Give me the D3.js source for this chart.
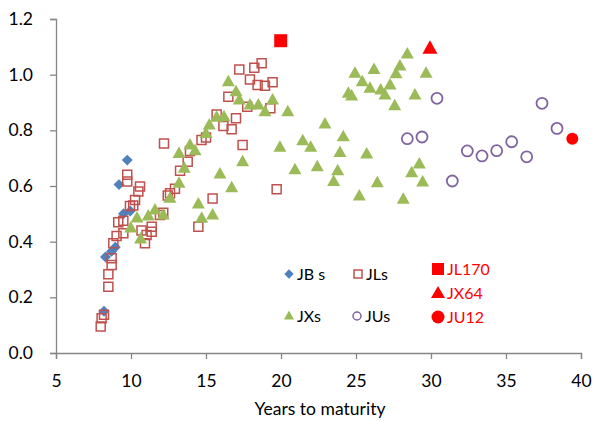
<!DOCTYPE html>
<html><head><meta charset="utf-8">
<script src="https://cdn.jsdelivr.net/npm/d3@7"></script>
<style>body{margin:0;background:#fff}svg{display:block}text{font-family:Lato,"Open Sans",sans-serif}</style>
</head><body><svg id="c" width="595" height="421"></svg>
<script>
const xTicks=[5,10,15,20,25,30,35,40];
const yTicks=[0,0.2,0.4,0.6,0.8,1.0,1.2];
const seriesNames=["JB s","JLs","JXs","JUs","JL170","JX64","JU12"];
const jbX=[8.2,8.3,8.7,8.95,9.2,9.5,9.95,9.75];
const jbY=[0.15,0.345,0.365,0.38,0.605,0.5,0.51,0.693];
const jlX=[7.98,8.04,8.2,8.49,8.49,8.71,8.71,8.82,9.04,9.15,9.49,9.49,9.93,10.15,10.27,10.49,10.6,9.75,9.75,10.7,10.93,11.04,11.38,11.38,11.93,12.15,12.2,12.45,12.6,12.93,13.27,13.78,13.93,14.49,14.7,15.0,15.44,15.71,16.16,16.49,16.71,17.0,17.22,17.44,17.75,17.93,18.22,18.44,18.71,18.93,19.29,19.44,19.71];
const jlY=[0.095,0.125,0.137,0.238,0.283,0.316,0.34,0.394,0.42,0.47,0.475,0.43,0.528,0.53,0.55,0.58,0.598,0.616,0.64,0.44,0.394,0.424,0.436,0.454,0.496,0.504,0.753,0.566,0.574,0.59,0.655,0.687,0.726,0.454,0.765,0.774,0.555,0.857,0.816,0.921,0.804,0.843,1.019,0.747,0.885,0.983,1.025,0.963,1.041,0.96,0.879,0.973,0.588];
const jxX=[9.98,10.4,10.64,11.15,11.6,12.15,12.6,13.2,13.2,13.55,13.93,14.27,14.49,14.71,15.0,15.22,15.44,15.71,15.93,16.2,16.49,16.71,17.0,17.22,17.44,17.93,18.49,18.93,19.44,19.93,20.45,20.93,21.45,21.98,22.42,22.93,23.51,23.78,23.93,24.15,24.49,24.71,24.93,25.22,25.42,25.71,25.93,26.2,26.42,26.65,26.93,27.27,27.58,27.67,27.93,28.15,28.42,28.71,28.93,29.22,29.44,29.67];
const jxY=[0.449,0.485,0.41,0.492,0.514,0.496,0.556,0.61,0.717,0.664,0.747,0.727,0.535,0.484,0.789,0.819,0.496,0.847,0.643,0.849,0.975,0.594,0.939,0.909,0.687,0.891,0.891,0.867,0.909,0.739,0.867,0.658,0.763,0.739,0.669,0.823,0.616,0.655,0.72,0.777,0.933,0.923,1.005,0.564,0.975,0.715,0.951,1.019,0.612,0.945,0.927,0.963,0.888,1.003,1.031,0.552,1.074,0.648,0.927,0.679,0.614,1.005];
const juX=[28.42,29.4,30.4,31.42,32.42,33.4,34.38,35.38,36.38,37.4,38.4];
const juY=[0.77,0.776,0.915,0.618,0.726,0.708,0.727,0.759,0.705,0.897,0.807];
const jl170=[19.98,1.122];
const jx64=[29.93,1.095];
const ju12=[39.42,0.77];

const svg=d3.select("#c");
const x=d3.scaleLinear().domain([5,40]).range([56,581]);
const y=d3.scaleLinear().domain([0,1.2]).range([353,19]);
const axisCol="#868686";
const FONT="Lato, 'Open Sans', sans-serif";

const xa=svg.append("g").attr("transform","translate(0,353)")
 .call(d3.axisBottom(x).tickValues(xTicks).tickFormat(d3.format("d")).tickSizeOuter(0).tickSize(6).tickPadding(16));
const ya=svg.append("g").attr("transform","translate(56,0)")
 .call(d3.axisLeft(y).tickValues(yTicks).tickFormat(d3.format(".1f")).tickSizeOuter(0).tickSize(6).tickPadding(17));
[xa,ya].forEach(a=>{a.select(".domain").attr("stroke",axisCol).attr("stroke-width",1.3);
 a.selectAll(".tick line").attr("stroke",axisCol).attr("stroke-width",1.3);
 a.selectAll("text").attr("fill","#000").style("font-size","17.5px").style("font-family",FONT);});

const xt=svg.append("text").attr("x",320).attr("y",415).attr("text-anchor","middle")
 .style("font-size","16px").attr("fill","#000").text("Years to maturity");
const w=xt.node().getComputedTextLength();
if(w>0) xt.style("font-size",(16*131/w).toFixed(2)+"px");

const sym=(type,size)=>d3.symbol().type(type).size(size)();
const g=svg.append("g");
function draw(xs,ys,path,fill,stroke,sw){
 g.append("g").selectAll("path").data(xs.map((v,i)=>[v,ys[i]])).join("path")
  .attr("d",path).attr("transform",d=>`translate(${x(d[0])},${y(d[1])})`)
  .attr("fill",fill).attr("stroke",stroke).attr("stroke-width",sw);
}
const diamond=sym(d3.symbolDiamond2,76);
const sq="M-4.5,-4.5H4.5V4.5H-4.5Z";
const tri="M0,-7L6.5,4.5L-6.5,4.5Z";
const circ="M5.5,0A5.5,5.5 0 1,1 -5.5,0A5.5,5.5 0 1,1 5.5,0Z";
draw(jbX,jbY,diamond,"#4F81BD","none",0);
draw(jlX,jlY,sq,"none","#C0504D",1.5);
draw(jxX,jxY,tri,"#9BBB59","none",0);
draw(juX,juY,circ,"none","#8064A2",1.8);
draw([jl170[0]],[jl170[1]],"M-6.5,-6.5H6.5V6.5H-6.5Z","#FF0000","none",0);
draw([jx64[0]],[jx64[1]],"M0,-8L7.5,5.5L-7.5,5.5Z","#FF0000","none",0);
draw([ju12[0]],[ju12[1]],"M6,0A6,6 0 1,1 -6,0A6,6 0 1,1 6,0Z","#FF0000","none",0);

// legend
const L=svg.append("g");
const legItems=[
 {n:seriesNames[0],x:289,y:274,p:sym(d3.symbolDiamond2,56),f:"#4F81BD",s:"none",w:0,c:"#000"},
 {n:seriesNames[1],x:358,y:274,p:"M-4,-4H4V4H-4Z",f:"none",s:"#C0504D",w:1.5,c:"#000"},
 {n:seriesNames[2],x:289,y:316,p:"M0,-5.5L5,3.5L-5,3.5Z",f:"#9BBB59",s:"none",w:0,c:"#000"},
 {n:seriesNames[3],x:357,y:316,p:"M4,0A4,4 0 1,1 -4,0A4,4 0 1,1 4,0Z",f:"none",s:"#8064A2",w:1.5,c:"#000"},
 {n:seriesNames[4],x:438,y:269,p:"M-6,-6H6V6H-6Z",f:"#FF0000",s:"none",w:0,c:"#FF0000"},
 {n:seriesNames[5],x:438,y:293,p:"M0,-7L7,5L-7,5Z",f:"#FF0000",s:"none",w:0,c:"#FF0000"},
 {n:seriesNames[6],x:438,y:317,p:"M6.5,0A6.5,6.5 0 1,1 -6.5,0A6.5,6.5 0 1,1 6.5,0Z",f:"#FF0000",s:"none",w:0,c:"#FF0000"}
];
legItems.forEach(it=>{
 L.append("path").attr("d",it.p).attr("transform",`translate(${it.x},${it.y})`).attr("fill",it.f).attr("stroke",it.s).attr("stroke-width",it.w);
 L.append("text").attr("x",it.x+(it.c==="#000"?8:9)).attr("y",it.y+6).style("font-size","16px").attr("fill",it.c).text(it.n);
});
</script></body></html>
